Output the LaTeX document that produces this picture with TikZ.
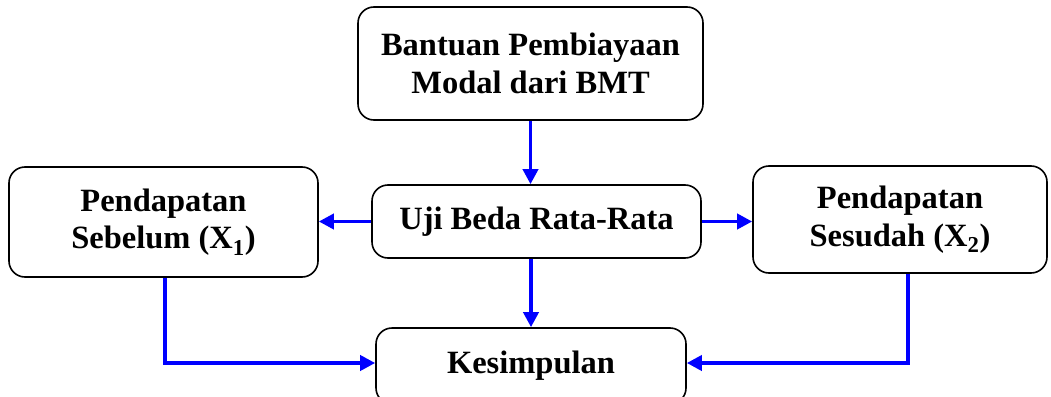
\documentclass[tikz,border=0pt]{standalone}
\usepackage{fontspec}
\setmainfont{Liberation Serif}
\usetikzlibrary{arrows.meta}
\definecolor{arrblue}{RGB}{0,0,255}
\begin{document}
\begin{tikzpicture}[x=1pt,y=-1pt,
 box/.style={draw=black,line width=1.6pt,rounded corners=16pt,inner sep=0pt,align=center,
   font=\fontsize{32.5}{37.5}\selectfont\bfseries},
 conn/.style={draw=arrblue,line width=3.6pt,-{Triangle[length=15pt,width=15pt]}}]
\useasboundingbox (0,0) rectangle (1051,396);
\clip (0,0) rectangle (1051,396);
\node[box,minimum width=345pt,minimum height=113pt] (top) at (530.5,63.5) {Bantuan Pembiayaan\\Modal dari BMT};
\node[box,minimum width=329pt,minimum height=73pt] (mid) at (536.5,221.5) {Uji Beda Rata-Rata};
\node[box,minimum width=309pt,minimum height=110pt] (left) at (163.5,222) {Pendapatan\\Sebelum (X\textsubscript{1})};
\node[box,minimum width=294pt,minimum height=107pt] (right) at (900,219.5) {Pendapatan\\Sesudah (X\textsubscript{2})};
\node[box,minimum width=310pt,minimum height=76pt] (bot) at (531,366) {\raisebox{5pt}{Kesimpulan}};
\draw[conn] (top.south) -- (top.south |- mid.north);
\draw[conn] (mid.west) -- (left.east |- mid.west);
\draw[conn] (mid.east) -- (right.west |- mid.east);
\draw[conn] (bot.north |- mid.south) -- (bot.north);
\draw[conn] ([xshift=1.5pt]left.south) |- ([yshift=3pt]bot.west);
\draw[conn] ([xshift=8pt]right.south) |- ([yshift=3pt]bot.east);
\end{tikzpicture}
\end{document}
